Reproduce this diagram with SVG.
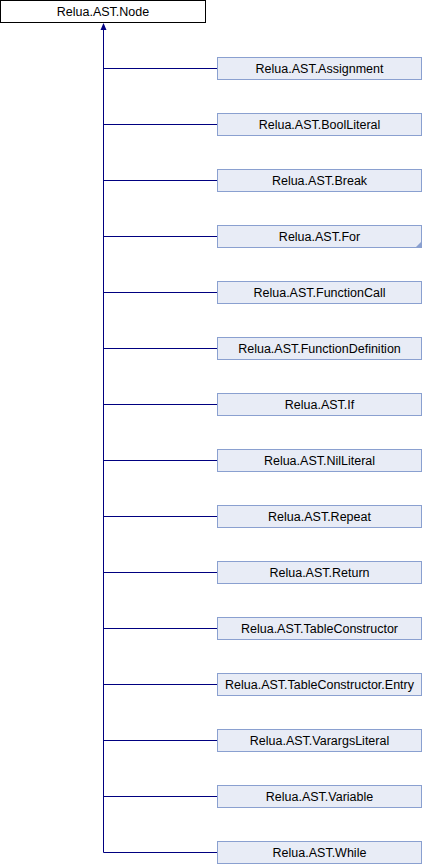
<svg xmlns="http://www.w3.org/2000/svg" width="424" height="864" viewBox="0 0 424 864">
<style>
.n rect{fill:#e8ecf6;stroke:#8aa0d0;stroke-width:1}
.root rect{fill:#ffffff;stroke:#000000;stroke-width:1}
text{font-family:"Liberation Sans",Arial,sans-serif;font-size:12.5px;text-anchor:middle;fill:#000}
.c{fill:none;stroke:#000080;stroke-width:1}
</style>
<rect width="424" height="864" fill="#ffffff"/>
<g id="connectors">
<path class="c" d="M103.5,28V852.5"/>
<polygon points="103.5,23 100.5,30 106.5,30" fill="#000080"/>
<path class="c" d="M103.5,68.5H217.5M103.5,124.5H217.5M103.5,180.5H217.5M103.5,236.5H217.5M103.5,292.5H217.5M103.5,348.5H217.5M103.5,404.5H217.5M103.5,460.5H217.5M103.5,516.5H217.5M103.5,572.5H217.5M103.5,628.5H217.5M103.5,684.5H217.5M103.5,740.5H217.5M103.5,796.5H217.5M103.5,852.5H217.5"/>
</g>
<g id="node_Node" class="root"><rect x="0.5" y="0.5" width="205" height="22"/><text x="103" y="16">Relua.AST.Node</text></g>
<g id="node_Assignment" class="n"><rect x="217.5" y="57.5" width="204" height="22"/><text x="319.5" y="73">Relua.AST.Assignment</text></g>
<g id="node_BoolLiteral" class="n"><rect x="217.5" y="113.5" width="204" height="22"/><text x="319.5" y="129">Relua.AST.BoolLiteral</text></g>
<g id="node_Break" class="n"><rect x="217.5" y="169.5" width="204" height="22"/><text x="319.5" y="185">Relua.AST.Break</text></g>
<g id="node_For" class="n"><rect x="217.5" y="225.5" width="204" height="22"/><polygon points="421.5,241.5 421.5,247.5 415.5,247.5" fill="#8aa0d0"/><text x="319.5" y="241">Relua.AST.For</text></g>
<g id="node_FunctionCall" class="n"><rect x="217.5" y="281.5" width="204" height="22"/><text x="319.5" y="297">Relua.AST.FunctionCall</text></g>
<g id="node_FunctionDefinition" class="n"><rect x="217.5" y="337.5" width="204" height="22"/><text x="319.5" y="353">Relua.AST.FunctionDefinition</text></g>
<g id="node_If" class="n"><rect x="217.5" y="393.5" width="204" height="22"/><text x="319.5" y="409">Relua.AST.If</text></g>
<g id="node_NilLiteral" class="n"><rect x="217.5" y="449.5" width="204" height="22"/><text x="319.5" y="465">Relua.AST.NilLiteral</text></g>
<g id="node_Repeat" class="n"><rect x="217.5" y="505.5" width="204" height="22"/><text x="319.5" y="521">Relua.AST.Repeat</text></g>
<g id="node_Return" class="n"><rect x="217.5" y="561.5" width="204" height="22"/><text x="319.5" y="577">Relua.AST.Return</text></g>
<g id="node_TableConstructor" class="n"><rect x="217.5" y="617.5" width="204" height="22"/><text x="319.5" y="633">Relua.AST.TableConstructor</text></g>
<g id="node_TableConstructorEntry" class="n"><rect x="217.5" y="673.5" width="204" height="22"/><text x="319.5" y="689">Relua.AST.TableConstructor.Entry</text></g>
<g id="node_VarargsLiteral" class="n"><rect x="217.5" y="729.5" width="204" height="22"/><text x="319.5" y="745">Relua.AST.VarargsLiteral</text></g>
<g id="node_Variable" class="n"><rect x="217.5" y="785.5" width="204" height="22"/><text x="319.5" y="801">Relua.AST.Variable</text></g>
<g id="node_While" class="n"><rect x="217.5" y="841.5" width="204" height="22"/><text x="319.5" y="857">Relua.AST.While</text></g>
</svg>
